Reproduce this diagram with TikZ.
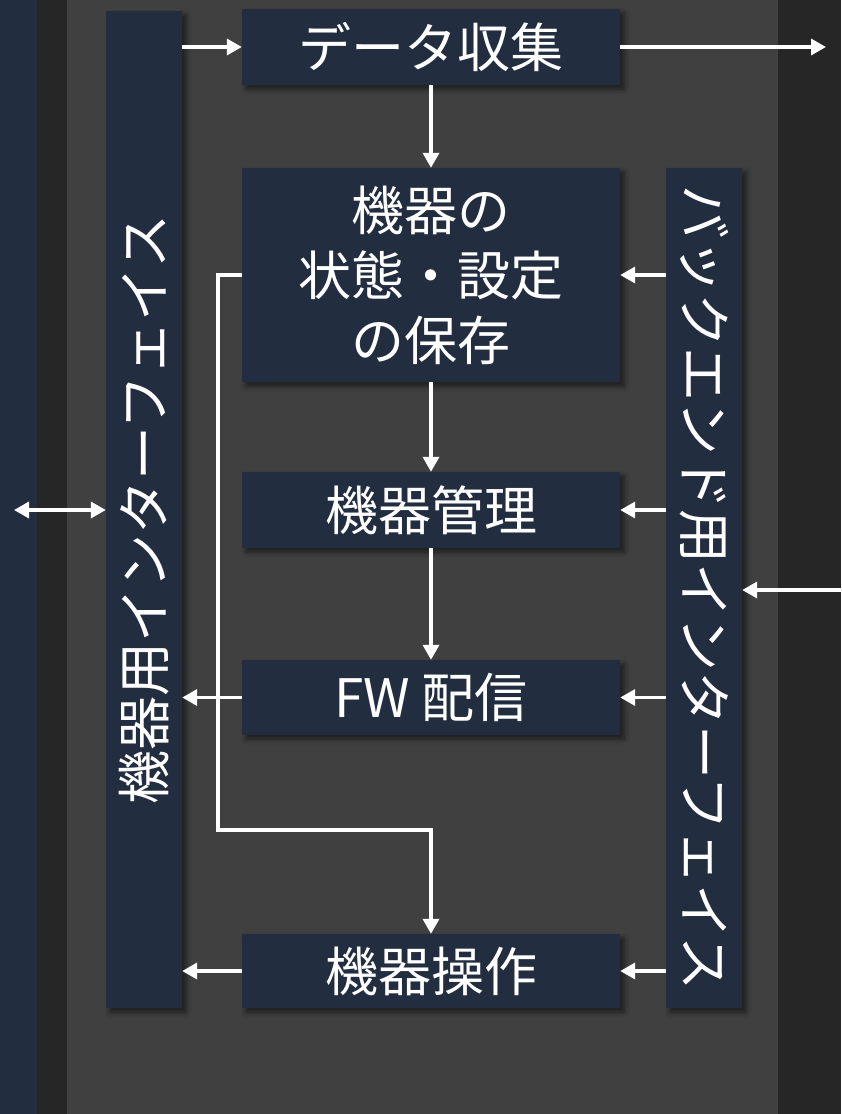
\documentclass[tikz,border=0pt]{standalone}
\usepackage{fontspec}
\setmainfont{Noto Sans CJK JP}
\usetikzlibrary{arrows.meta,shadows.blur}

\definecolor{boxnavy}{RGB}{34,45,64}
\definecolor{bggray}{RGB}{64,64,64}
\definecolor{bgdark}{RGB}{38,38,38}

\tikzstyle{func}=[fill=boxnavy, text=white, minimum width=378pt, inner sep=0pt, align=center, font=\fontsize{53}{65}\selectfont, blur shadow={shadow xshift=4pt, shadow yshift=-4pt, shadow blur radius=5pt, shadow opacity=55}]
\tikzstyle{iface}=[fill=boxnavy, minimum width=76pt, inner sep=0pt, blur shadow={shadow xshift=4pt, shadow yshift=-4pt, shadow blur radius=5pt, shadow opacity=55}]
\tikzstyle{bartext}=[text=white, inner sep=0pt, font=\fontsize{54}{60}\selectfont]
\tikzstyle{com}=[line width=3.5pt, white, -{Triangle[length=15pt,width=16pt]}]
\tikzstyle{bicom}=[line width=3.5pt, white, {Triangle[length=15pt,width=16pt]}-{Triangle[length=15pt,width=16pt]}]

\begin{document}
\begin{tikzpicture}[x=1pt, y=-1pt]
      \useasboundingbox (0,0) rectangle (841,1114);
      \fill[boxnavy] (0,0) rectangle (37,1114);
      \fill[bgdark] (37,0) rectangle (67,1114);
      \fill[bggray] (67,0) rectangle (778,1114);
      \fill[bgdark] (778,0) rectangle (841,1114);

      \node[iface, minimum height=997pt, label={[bartext, rotate=90]center:機器用インターフェイス}] (devif) at (144, 509.5) {};
      \node[iface, minimum height=840pt, label={[bartext, rotate=-90]center:バックエンド用インターフェイス}] (beif) at (704, 588) {};

      \node[func, minimum height=76pt] (collect) at (431, 47) {\raisebox{3pt}{データ収集}};
      \node[func, minimum height=214pt] (store) at (431, 275) {\raisebox{4pt}{機器の}\\\raisebox{4pt}{状態・設定}\\\raisebox{4pt}{の保存}};
      \node[func, minimum height=76pt] (manage) at (431, 510) {\raisebox{3pt}{機器管理}};
      \node[func, minimum height=75pt] (fwdist) at (431, 697.5) {\raisebox{3pt}{FW 配信}};
      \node[func, minimum height=74pt] (control) at (431, 971) {\raisebox{3pt}{機器操作}};

      \coordinate (out) at (826, 47);
      \coordinate (in) at (841, 590);
      \coordinate (dev) at (14, 510);
      \coordinate (turn) at (218, 830);

      \draw[com] (devif.east |- collect) to (collect.west);
      \draw[com] (collect.east) to (out);
      \draw[com] (in) to (in -| beif.east);
      \draw[bicom] (dev) to (dev -| devif.west);

      \draw[com] (collect) to (store);
      \draw[com] (store) to (manage);
      \draw[com] (manage) to (fwdist);

      \draw[com] (beif.west |- store) to (store.east);
      \draw[com] (beif.west |- manage) to (manage.east);
      \draw[com] (beif.west |- fwdist) to (fwdist.east);
      \draw[com] (beif.west |- control) to (control.east);

      \draw[com] (fwdist.west) to (fwdist.west -| devif.east);
      \draw[com] (control.west) to (control.west -| devif.east);

      \draw[com] (store.west) -| (turn) -| (control.north);
    \end{tikzpicture}
\end{document}
